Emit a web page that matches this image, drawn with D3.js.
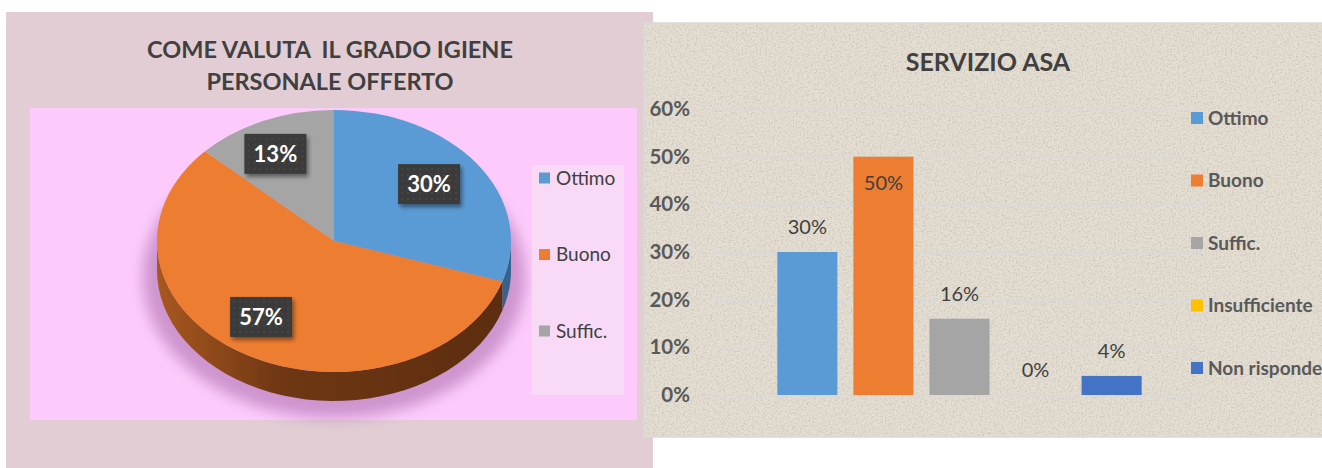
<!DOCTYPE html>
<html>
<head>
<meta charset="utf-8">
<title>Grado igiene / Servizio ASA</title>
<script src="https://d3js.org/d3.v7.min.js"></script>
<style>
  body{margin:0;background:#fff;}
  text{font-family:Lato,"Open Sans",sans-serif;}
  .title{font-weight:bold;fill:#404040;white-space:pre;}
</style>
</head>
<body>
<svg width="1322" height="468"></svg>
<script>
// pie data
var pieCats = ["Ottimo", "Buono", "Suffic."];
var pieVals = [30, 57, 13];
var pieColors = ["#5b9bd5", "#ed7d31", "#a5a5a5"];
var pieTitle = ["COME VALUTA  IL GRADO IGIENE", "PERSONALE OFFERTO"];

// bar data
var barCats = ["Ottimo", "Buono", "Suffic.", "Insufficiente", "Non risponde"];
var barVals = [0.30, 0.50, 0.16, 0, 0.04];
var barColors = ["#5b9bd5", "#ed7d31", "#a5a5a5", "#ffc000", "#4472c4"];
var yTicks = [0, 0.1, 0.2, 0.3, 0.4, 0.5, 0.6];
var barTitle = "SERVIZIO ASA";

var svg = d3.select("svg");
var defs = svg.append("defs");

// ---- filters / patterns
var sh = defs.append("filter").attr("id", "boxShadow").attr("x", "-30%").attr("y", "-30%").attr("width", "160%").attr("height", "160%");
sh.append("feDropShadow").attr("dx", 2).attr("dy", 3).attr("stdDeviation", 2).attr("flood-color", "#000").attr("flood-opacity", 0.45);

var blur = defs.append("filter").attr("id", "pieShadow").attr("x", "-20%").attr("y", "-20%").attr("width", "140%").attr("height", "140%");
blur.append("feGaussianBlur").attr("stdDeviation", 7);

var tex = defs.append("filter").attr("id", "paper").attr("x", 0).attr("y", 0).attr("width", "100%").attr("height", "100%");
tex.append("feTurbulence").attr("type", "fractalNoise").attr("baseFrequency", 0.55).attr("numOctaves", 3).attr("seed", 4).attr("result", "n");
tex.append("feColorMatrix").attr("in", "n").attr("type", "matrix")
   .attr("values", "0 0 0 0 0.45  0 0 0 0 0.42  0 0 0 0 0.38  -2.2 0 0 0 1.25");

var dots = defs.append("pattern").attr("id", "dots").attr("width", 6).attr("height", 6).attr("patternUnits", "userSpaceOnUse");
dots.append("rect").attr("width", 6).attr("height", 6).attr("fill", "#3a3a3a");
dots.append("circle").attr("cx", 3).attr("cy", 3).attr("r", 0.8).attr("fill", "#555");

var sideGrad = defs.append("linearGradient").attr("id", "sideGrad").attr("gradientUnits", "userSpaceOnUse")
   .attr("x1", 157).attr("x2", 511).attr("y1", 0).attr("y2", 0);
sideGrad.append("stop").attr("offset", 0).attr("stop-color", "#a8581f");
sideGrad.append("stop").attr("offset", 0.35).attr("stop-color", "#6f3713");
sideGrad.append("stop").attr("offset", 1).attr("stop-color", "#5c2d0f");

// ================= LEFT: pie chart =================
svg.append("rect").attr("x", 6).attr("y", 12).attr("width", 647).attr("height", 456).attr("fill", "#e2cdd4");
svg.append("rect").attr("x", 30).attr("y", 108).attr("width", 607).attr("height", 312).attr("fill", "#fccbfb");

svg.selectAll(".ptitle").data(pieTitle).enter().append("text")
   .attr("class", "title")
   .attr("x", 330).attr("y", function(d, i){ return 58 + i * 32; })
   .attr("text-anchor", "middle")
   .style("font-size", "23.5px")
   .text(function(d){ return d; });

var cx = 334, cy = 241, rx = 177, ry = 131, depth = 29;
var pie = d3.pie().sort(null).value(function(d){ return d; });
var arcs = pie(pieVals);

function pt(a, dy){ return [cx + rx * Math.sin(a), cy - ry * Math.cos(a) + dy]; }

// soft shadow under the pie
svg.append("ellipse").attr("cx", cx).attr("cy", cy + 36).attr("rx", rx + 14).attr("ry", ry + 10)
   .attr("fill", "#a868a8").attr("opacity", 0.55).attr("filter", "url(#pieShadow)");

// side wall (front half only)
var sideCols = ["#36638d", "url(#sideGrad)", "#6b6b6b"];
var line = d3.line();
arcs.forEach(function(a, i){
  var a0 = Math.max(a.startAngle, Math.PI / 2), a1 = Math.min(a.endAngle, Math.PI * 1.5);
  if (a0 >= a1) return;
  var n = 40, pts = [];
  for (var k = 0; k <= n; k++) pts.push(pt(a0 + (a1 - a0) * k / n, 0));
  for (var k = n; k >= 0; k--) pts.push(pt(a0 + (a1 - a0) * k / n, depth));
  svg.append("path").attr("d", line(pts) + "Z").attr("fill", sideCols[i]);
});

// top face
var arc = d3.arc().innerRadius(0).outerRadius(rx);
var topFace = svg.append("g").attr("transform", "translate(" + cx + "," + cy + ") scale(1," + (ry / rx) + ")");
topFace.selectAll("path").data(arcs).enter().append("path")
   .attr("d", arc)
   .attr("fill", function(d, i){ return pieColors[i]; });

// data labels
var lab = svg.append("g");
arcs.forEach(function(a){
  var m = (a.startAngle + a.endAngle) / 2;
  var p = [cx + 0.72 * rx * Math.sin(m) - 8, cy - 0.7 * ry * Math.cos(m) - 3];
  var g = lab.append("g").attr("transform", "translate(" + p[0] + "," + p[1] + ")");
  g.append("rect").attr("x", -31).attr("y", -20).attr("width", 62).attr("height", 40)
   .attr("fill", "url(#dots)").attr("filter", "url(#boxShadow)");
  g.append("text").attr("text-anchor", "middle").attr("dy", "0.36em")
   .style("font-size", "22px").style("font-weight", "bold").attr("fill", "#fff")
   .text(a.data + "%");
});

// legend
svg.append("rect").attr("x", 532).attr("y", 165).attr("width", 92).attr("height", 230).attr("fill", "#f8d9f6");
var pl = svg.selectAll(".pleg").data(pieCats).enter().append("g")
   .attr("transform", function(d, i){ return "translate(539," + (178 + i * 76.5) + ")"; });
pl.append("rect").attr("y", -5.5).attr("width", 11).attr("height", 11).attr("fill", function(d, i){ return pieColors[i]; });
pl.append("text").attr("x", 17).attr("dy", "0.36em").style("font-size", "19px").attr("fill", "#404040")
  .text(function(d){ return d; });

// ================= RIGHT: bar chart =================
svg.append("rect").attr("x", 644).attr("y", 23).attr("width", 700).attr("height", 414)
   .attr("fill", "#e5ded2").attr("stroke", "#d8d8d8").attr("stroke-width", 1.5);
svg.append("rect").attr("x", 645).attr("y", 24).attr("width", 698).attr("height", 412)
   .attr("filter", "url(#paper)").attr("opacity", 0.55);

svg.append("text").attr("class", "title")
   .attr("x", 988).attr("y", 71).attr("text-anchor", "middle")
   .style("font-size", "25px").attr("fill", "#595959")
   .text(barTitle);

var plotL = 713, plotR = 1206;
var y = d3.scaleLinear().domain([0, 0.6]).range([395, 109]);
var x0 = d3.scaleBand().domain(["ASA"]).range([plotL, plotR]).paddingInner(0.129).paddingOuter(0.129);
var x = d3.scaleBand().domain(barCats).range([x0("ASA"), x0("ASA") + x0.bandwidth()]).paddingInner(16 / 76).paddingOuter(8 / 76);

var yAxis = svg.append("g").attr("transform", "translate(" + plotL + ",0)")
   .call(d3.axisLeft(y).tickValues(yTicks).tickFormat(d3.format(".0%")).tickSize(-(plotR - plotL)).tickPadding(23));
yAxis.select(".domain").remove();
yAxis.selectAll(".tick line").attr("stroke", "#d9d9d9").attr("stroke-width", 1.5);
yAxis.selectAll(".tick text").style("font-family", "Lato,'Open Sans',sans-serif").style("font-size", "20.5px")
     .style("font-weight", "bold").attr("fill", "#595959");

svg.selectAll(".bar").data(barVals).enter().append("rect")
   .attr("class", "bar")
   .attr("x", function(d, i){ return x(barCats[i]); })
   .attr("y", function(d){ return y(d); })
   .attr("width", x.bandwidth())
   .attr("height", function(d){ return y(0) - y(d); })
   .attr("fill", function(d, i){ return barColors[i]; });

svg.selectAll(".blab").data(barVals).enter().append("text")
   .attr("x", function(d, i){ return x(barCats[i]) + x.bandwidth() / 2; })
   .attr("y", function(d){ return d > 0.45 ? y(d) + 26 : y(d) - 25; })
   .attr("dy", "0.36em").attr("text-anchor", "middle")
   .style("font-size", "20px").attr("fill", "#404040")
   .text(function(d){ return d3.format(".0%")(d); });

var bl = svg.selectAll(".bleg").data(barCats).enter().append("g")
   .attr("transform", function(d, i){ return "translate(1191," + (118 + i * 62.5) + ")"; });
bl.append("rect").attr("y", -6).attr("width", 12).attr("height", 12).attr("fill", function(d, i){ return barColors[i]; });
bl.append("text").attr("x", 17).attr("dy", "0.36em").style("font-size", "19px").style("font-weight", "bold")
  .attr("fill", "#595959").text(function(d){ return d; });
</script>
</body>
</html>
